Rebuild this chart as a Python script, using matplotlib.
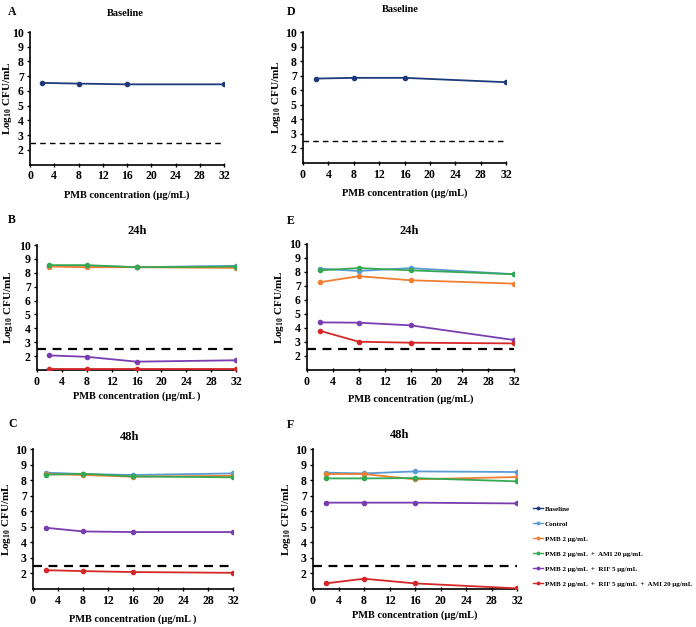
import numpy as np
import matplotlib
matplotlib.use("Agg")
import matplotlib.pyplot as plt
import matplotlib.transforms as mtransforms
from matplotlib.lines import Line2D

plt.rcParams['font.family'] = ['Liberation Serif', 'DejaVu Serif']
plt.rcParams['font.weight'] = 'bold'
plt.rcParams['mathtext.fontset'] = 'custom'
plt.rcParams['mathtext.rm'] = 'Liberation Serif:bold'
plt.rcParams['mathtext.bf'] = 'Liberation Serif:bold'
plt.rcParams['mathtext.it'] = 'Liberation Serif:bold'

# PMB concentrations (ug/mL)
conc = [2, 8, 16, 32]
lod = 2.5

series_names = ["Baseline", "Control", "PMB 2 μg/mL",
                "PMB 2 μg/mL  +  AMI 20 μg/mL",
                "PMB 2 μg/mL  +  RIF 5 μg/mL",
                "PMB 2 μg/mL  +  RIF 5 μg/mL  +  AMI 20 μg/mL"]
series_colors = ["#1f3a7a", "#5b9bd5", "#f07f33", "#34a853", "#7a3db0", "#d62728"]

# Baseline panels
base_A = [6.55, 6.5, 6.45, 6.45]
base_D = [6.8, 6.85, 6.85, 6.55]

# 24h, strain 1 (panel B)
ctrl_B = [8.5, 8.5, 8.4, 8.5]
pmb_B = [8.45, 8.4, 8.4, 8.35]
ami_B = [8.55, 8.55, 8.4, 8.45]
rif_B = [2.05, 1.95, 1.6, 1.7]
triple_B = [1.05, 1.05, 1.05, 1.05]

# 24h, strain 2 (panel E)
ctrl_E = [8.24, 8.07, 8.28, 7.84]
pmb_E = [7.27, 7.7, 7.41, 7.17]
ami_E = [8.12, 8.28, 8.12, 7.84]
rif_E = [4.4, 4.38, 4.19, 3.14]
triple_E = [3.8, 3.02, 2.95, 2.9]

# 48h, strain 1 (panel C)
ctrl_C = [8.48, 8.39, 8.33, 8.43]
pmb_C = [8.39, 8.33, 8.22, 8.28]
ami_C = [8.35, 8.41, 8.24, 8.18]
rif_C = [4.94, 4.7, 4.66, 4.66]
triple_C = [2.21, 2.15, 2.09, 2.04]

# 48h, strain 2 (panel F)
ctrl_F = [8.48, 8.43, 8.56, 8.52]
pmb_F = [8.39, 8.39, 8.05, 8.2]
ami_F = [8.11, 8.11, 8.13, 7.92]
rif_F = [6.55, 6.55, 6.55, 6.5]
triple_F = [1.36, 1.66, 1.36, 1.04]

W, H = 696, 627
fig = plt.figure(figsize=(W / 100, H / 100), dpi=100)


def add_ax(left, right, top, bottom):
    return fig.add_axes([left / W, 1 - bottom / H, (right - left) / W, (bottom - top) / H])


def style_ax(ax, title, title_size, title_xy, letter, letter_xy,
             xlabel, xlabel_pad, ylabel_x, lod_lw):
    ax.set_xlim(0, 32)
    ax.set_ylim(1, 10)
    ax.set_xticks(range(0, 33, 4))
    ax.set_yticks(range(2, 11))
    ax.spines['top'].set_visible(False)
    ax.spines['right'].set_visible(False)
    ax.spines['left'].set_linewidth(1.2)
    ax.spines['bottom'].set_linewidth(1.2)
    ax.tick_params(axis='x', direction='inout', length=3, width=1, labelsize=8.5, pad=2.5)
    ax.tick_params(axis='y', direction='out', length=2, width=1, labelsize=8.5, pad=2.5)
    for lab in ax.get_xticklabels() + ax.get_yticklabels():
        lab.set_fontweight('bold')
    ax.axhline(lod, xmin=0, xmax=1, color='black', ls=(0, (4, 3)), lw=lod_lw, zorder=1)
    fig.text(title_xy[0] / W, 1 - title_xy[1] / H, title, fontsize=title_size,
             fontweight='bold', ha='center', va='center')
    ax.set_xlabel(xlabel, fontsize=7.5, fontweight='bold', labelpad=xlabel_pad)
    ax.set_ylabel('Log$_{10}$ CFU/mL', fontsize=8, fontweight='bold')
    tr = mtransforms.blended_transform_factory(fig.transFigure, ax.transAxes)
    ax.yaxis.set_label_coords(ylabel_x / W, 0.5, transform=tr)
    fig.text(letter_xy[0] / W, 1 - letter_xy[1] / H, letter, fontsize=8.5,
             fontweight='bold', ha='left', va='center')


def plot_series(ax, values, color):
    ax.plot(conc, values, color=color, lw=1.3, marker='o', ms=3, zorder=3)


# Panel A / D (baseline)
axA = add_ax(30, 224, 32, 164.7)
plot_series(axA, base_A, series_colors[0])
style_ax(axA, "Baseline", 7.5, (125, 13), "A", (8, 12),
         "PMB concentration (μg/mL)", 6, 14, 1.0)

axD = add_ax(303, 506, 32, 163)
plot_series(axD, base_D, series_colors[0])
style_ax(axD, "Baseline", 7.5, (400, 9), "D", (287, 12),
         "PMB concentration (μg/mL)", 6, 283, 1.0)

# Panel B / E (24h)
axB = add_ax(37, 236, 245, 370)
for vals, c in zip([ctrl_B, pmb_B, ami_B, rif_B, triple_B], series_colors[1:]):
    plot_series(axB, vals, c)
style_ax(axB, "24h", 9, (137, 231), "B", (8, 220),
         "PMB concentration (μg/mL )", 3, 15, 1.6)

axE = add_ax(307, 514, 244, 370)
for vals, c in zip([ctrl_E, pmb_E, ami_E, rif_E, triple_E], series_colors[1:]):
    plot_series(axE, vals, c)
style_ax(axE, "24h", 9, (409, 231), "E", (287, 221),
         "PMB concentration (μg/mL)", 5, 286, 1.6)

# Panel C / F (48h)
axC = add_ax(33, 233, 449, 589)
for vals, c in zip([ctrl_C, pmb_C, ami_C, rif_C, triple_C], series_colors[1:]):
    plot_series(axC, vals, c)
style_ax(axC, "48h", 9, (130, 437), "C", (8, 424),
         "PMB concentration (μg/mL )", 6, 13, 1.6)

axF = add_ax(313, 517, 449, 589)
for vals, c in zip([ctrl_F, pmb_F, ami_F, rif_F, triple_F], series_colors[1:]):
    plot_series(axF, vals, c)
style_ax(axF, "48h", 9, (400, 435), "F", (287, 425),
         "PMB concentration (μg/mL)", 3, 293, 1.6)

# legend
handles = [Line2D([0], [0], color=c, lw=1.0, marker='o', ms=1.8) for c in series_colors]
leg = fig.legend(handles, series_names, loc='upper left',
                 bbox_to_anchor=(530 / W, 1 - 503 / H), frameon=False,
                 fontsize=5.05, handlelength=1.5, handletextpad=0.2,
                 labelspacing=1.3, borderaxespad=0)
for t in leg.get_texts():
    t.set_fontweight('bold')

fig.savefig("out.png", dpi=100)
